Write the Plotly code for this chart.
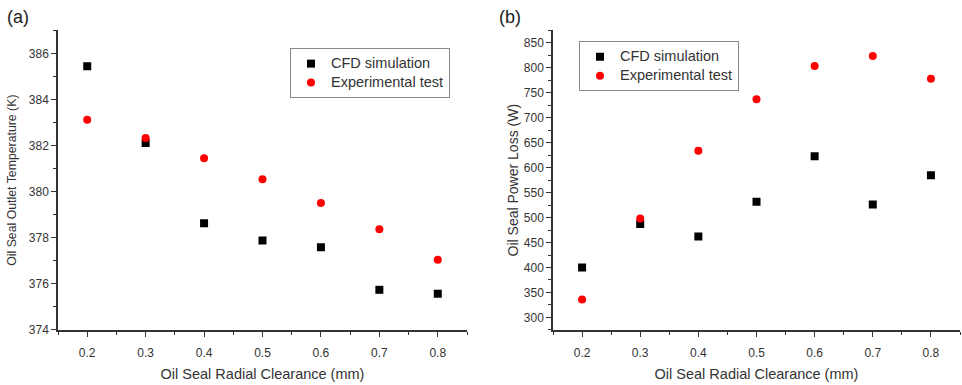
import plotly.graph_objects as go

clearance = [0.2, 0.3, 0.4, 0.5, 0.6, 0.7, 0.8]
temp_cfd = [385.45, 382.11, 378.63, 377.88, 377.59, 375.74, 375.57]
temp_exp = [383.12, 382.33, 381.45, 380.54, 379.51, 378.37, 377.05]
power_cfd = [400, 487, 462, 532, 623, 526, 585]
power_exp = [336, 498, 634, 737, 804, 824, 778]
series_names = ["CFD simulation", "Experimental test"]

FONT = "Liberation Sans, Arial, sans-serif"
AX = "#333333"
TXT = "#333333"

fig = go.Figure()

sq = dict(symbol="square", size=8, color="black")
ci = dict(symbol="circle", size=8, color="#ff0000")

def lname(s):
    return f'<span style="font-size:14.5px">{s}</span>'

fig.add_trace(go.Scatter(x=clearance, y=temp_cfd, mode="markers", marker=sq,
                         name=lname(series_names[0]), xaxis="x", yaxis="y", legend="legend"))
fig.add_trace(go.Scatter(x=clearance, y=temp_exp, mode="markers", marker=ci,
                         name=lname(series_names[1]), xaxis="x", yaxis="y", legend="legend"))
fig.add_trace(go.Scatter(x=clearance, y=power_cfd, mode="markers", marker=sq,
                         name=lname(series_names[0]), xaxis="x2", yaxis="y2", legend="legend2"))
fig.add_trace(go.Scatter(x=clearance, y=power_exp, mode="markers", marker=ci,
                         name=lname(series_names[1]), xaxis="x2", yaxis="y2", legend="legend2"))

H, W = 385, 962
ytop = 1 - 31 / H
ybot = 1 - 336 / H

def xax(domain, anchor):
    return dict(domain=domain, anchor=anchor, range=[0.15, 0.85], tickvals=clearance,
                ticktext=[f"{v:.1f}" for v in clearance],
                showline=True, linecolor=AX, linewidth=1.5, ticks="outside",
                ticklen=5, tickwidth=1.2, tickcolor=AX, showgrid=False, zeroline=False,
                ticklabelstandoff=6,
                minor=dict(tickvals=[0.15, 0.25, 0.35, 0.45, 0.55, 0.65, 0.75, 0.85],
                           ticks="outside", ticklen=3, tickcolor=AX, tickwidth=1, showgrid=False),
                tickfont=dict(family=FONT, size=12, color=TXT),
                title=dict(text="Oil Seal Radial Clearance (mm)", standoff=10,
                           font=dict(family=FONT, size=14.5, color=TXT)))

def yax(domain, anchor, rng, dtick, title, standoff, tsize):
    return dict(domain=domain, anchor=anchor, range=rng, dtick=dtick,
                showline=True, linecolor=AX, linewidth=1.5, ticks="outside",
                ticklen=5, tickwidth=1.2, tickcolor=AX, showgrid=False, zeroline=False,
                minor=dict(dtick=dtick / 2, ticks="outside", ticklen=3, tickcolor=AX,
                           tickwidth=1, showgrid=False),
                tickfont=dict(family=FONT, size=12, color=TXT),
                title=dict(text=title, standoff=standoff,
                           font=dict(family=FONT, size=tsize, color=TXT)))

legend_style = dict(xanchor="left", yanchor="top", bordercolor="#888888", borderwidth=1,
                    bgcolor="white", font=dict(family=FONT, size=11, color=TXT),
                    tracegroupgap=0, itemwidth=30)

fig.update_layout(
    width=W, height=H, margin=dict(l=0, r=0, t=0, b=0),
    paper_bgcolor="white", plot_bgcolor="white",
    font=dict(family=FONT, color=TXT),
    xaxis=xax([58 / W, 467 / W], "y"),
    yaxis=yax([ybot, ytop], "x", [374, 387], 2, "Oil Seal Outlet Temperature (K)", 10, 12.3),
    xaxis2=xax([553 / W, 960 / W], "y2"),
    yaxis2=yax([ybot, ytop], "x2", [275, 875], 50, "Oil Seal Power Loss (W)", 2, 14),
    legend=dict(x=290 / W, y=1 - 49 / H, **legend_style),
    legend2=dict(x=579 / W, y=1 - 42 / H, **legend_style),
    annotations=[
        dict(text="(a)", x=5 / W, y=1 - 5 / H, xref="paper", yref="paper",
             xanchor="left", yanchor="top", showarrow=False,
             font=dict(family=FONT, size=18, color="#222222")),
        dict(text="(b)", x=497 / W, y=1 - 5 / H, xref="paper", yref="paper",
             xanchor="left", yanchor="top", showarrow=False,
             font=dict(family=FONT, size=18, color="#222222")),
    ],
)

fig.write_html("out.html")
